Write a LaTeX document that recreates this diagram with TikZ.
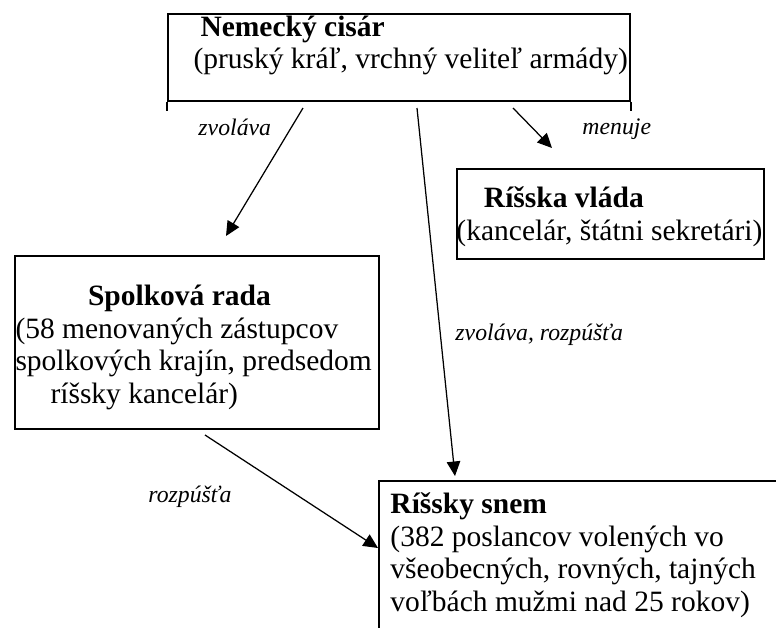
\documentclass[tikz,border=0pt]{standalone}
\usepackage{fontspec}
\setmainfont{Liberation Serif}
\usetikzlibrary{arrows.meta}

\begin{document}
\begin{tikzpicture}[x=0.4pt, y=-0.4pt,
    box/.style={draw, line width=0.7pt, inner sep=0pt, anchor=north west},
    txt/.style={inner sep=0pt, anchor=base west, align=left,
      font=\fontsize{11.8}{13}\selectfont},
    lbl/.style={inner sep=0pt, anchor=base west,
      font=\fontsize{9.5}{11}\selectfont\itshape},
    arr/.style={line width=0.5pt, -{Triangle[length=5.8pt, width=5.4pt]}}]
    \clip (0, 0) rectangle (776, 628);

    % Nemecky cisar
    \node [box, minimum width=184.8pt, minimum height=34.8pt] (cisar) at (167, 13) {};
    \draw [line width=0.7pt] (cisar.south west) -- ++(0, 9);
    \draw [line width=0.7pt] (cisar.south east) -- ++(0, 9);
    \node [txt] (cisar-t) at (193, 68.5)
      {\hspace*{2.8pt}\textbf{Nemecký cisár}\\(pruský kráľ, vrchný veliteľ armády)};

    % Risska vlada
    \node [box, minimum width=122.8pt, minimum height=36pt] (vlada) at (456, 168) {};
    \node [txt] (vlada-t) at (456, 240)
      {\hspace*{11pt}\textbf{Ríšska vláda}\\(kancelár, štátni sekretári)};

    % Spolkova rada
    \node [box, minimum width=145.6pt, minimum height=69.2pt] (rada) at (14, 255) {};
    \node [txt] (rada-t) at (15, 403)
      {\hspace*{29pt}\textbf{Spolková rada}\\(58 menovaných zástupcov\\
       spolkových krajín, predsedom\\\hspace*{14pt}ríšsky kancelár)};

    % Risky snem (cut by the page edge)
    \node [box, minimum width=170pt, minimum height=72pt] (snem) at (378, 480) {};
    \node [txt] (snem-t) at (390, 611)
      {\textbf{Ríšsky snem}\\(382 poslancov volených vo\\
       všeobecných, rovných, tajných\\voľbách mužmi nad 25 rokov)};

    % arrows
    \coordinate (cisar-l) at (303, 108);
    \coordinate (rada-in) at (226, 236);
    \coordinate (cisar-m) at (417, 108);
    \coordinate (snem-top) at (455, 476);
    \coordinate (cisar-r) at (513, 108);
    \coordinate (vlada-in) at (552, 148);
    \coordinate (rada-out) at (205, 435);
    \coordinate (snem-in) at (378, 548);

    \draw [arr] (cisar-l) -- (rada-in);
    \draw [arr] (cisar-m) -- (snem-top);
    \draw [arr] (cisar-r) -- (vlada-in);
    \draw [arr] (rada-out) -- (snem-in);

    \node [lbl] (l-zvolava) at (198, 135) {zvoláva};
    \node [lbl] (l-menuje) at (582, 134) {menuje};
    \node [lbl] (l-rozpusta) at (455, 340) {zvoláva, rozpúšťa};
    \node [lbl] (l-rozp) at (148, 502) {rozpúšťa};

  \end{tikzpicture}
\end{document}
